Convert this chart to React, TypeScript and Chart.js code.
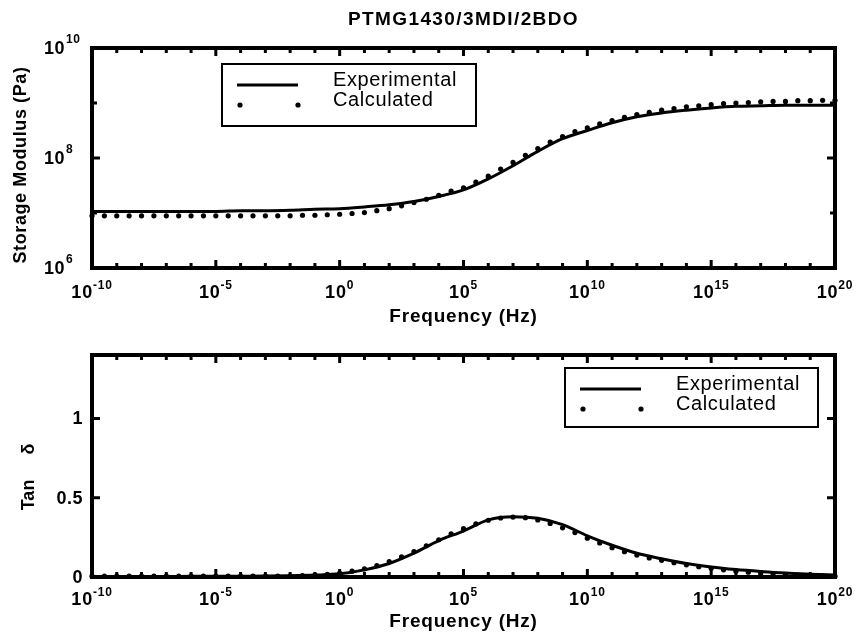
import React, { useEffect, useRef } from 'react';
import { Chart, registerables } from 'chart.js';

Chart.register(...registerables);

const FONT = '"Liberation Sans", Arial, Helvetica, sans-serif';

// ---------------- texts ----------------
const chartTitle = 'PTMG1430/3MDI/2BDO';
const xAxisTitle = 'Frequency (Hz)';
const topYAxisTitle = 'Storage Modulus (Pa)';
const bottomYAxisTitle = 'Tan     δ';
const seriesNames = ['Experimental', 'Calculated'];

// ---------------- data ----------------
// experimental curve, one point per decade (Hz)
const expFreq = [
  1e-10, 1e-9, 1e-8, 1e-7, 1e-6, 1e-5, 1e-4, 1e-3, 1e-2, 1e-1, 1,
  1e1, 1e2, 1e3, 1e4, 1e5, 1e6, 1e7, 1e8, 1e9, 1e10,
  1e11, 1e12, 1e13, 1e14, 1e15, 1e16, 1e17, 1e18, 1e19, 1e20,
];
// storage modulus, Pa
const expStorage = [
  1.07e7, 1.07e7, 1.07e7, 1.07e7, 1.07e7, 1.07e7, 1.10e7, 1.10e7, 1.12e7, 1.17e7, 1.20e7,
  1.29e7, 1.41e7, 1.62e7, 2.0e7, 2.63e7, 4.17e7, 7.24e7, 1.32e8, 2.24e8, 3.16e8,
  4.37e8, 5.62e8, 6.61e8, 7.41e8, 8.13e8, 8.71e8, 8.91e8, 9.12e8, 9.12e8, 9.12e8,
];
// tan delta
const expTan = [
  0.003, 0.003, 0.003, 0.003, 0.004, 0.004, 0.005, 0.006, 0.008, 0.012, 0.02,
  0.045, 0.085, 0.15, 0.23, 0.29, 0.36, 0.38, 0.37, 0.33, 0.26,
  0.20, 0.15, 0.115, 0.085, 0.063, 0.047, 0.035, 0.025, 0.018, 0.012,
];

// calculated points, two per decade (Hz)
const calcFreq = [
  1e-10, 3.16e-10, 1e-9, 3.16e-9, 1e-8, 3.16e-8, 1e-7, 3.16e-7, 1e-6, 3.16e-6,
  1e-5, 3.16e-5, 1e-4, 3.16e-4, 1e-3, 3.16e-3, 1e-2, 3.16e-2, 1e-1, 3.16e-1,
  1, 3.16, 10, 31.6, 100, 316, 1e3, 3.16e3, 1e4, 3.16e4,
  1e5, 3.16e5, 1e6, 3.16e6, 1e7, 3.16e7, 1e8, 3.16e8, 1e9, 3.16e9,
  1e10, 3.16e10, 1e11, 3.16e11, 1e12, 3.16e12, 1e13, 3.16e13, 1e14, 3.16e14,
  1e15, 3.16e15, 1e16, 3.16e16, 1e17, 3.16e17, 1e18, 3.16e18, 1e19, 3.16e19,
  1e20,
];
const calcStorage = [
  8.9e6, 8.9e6, 8.9e6, 8.9e6, 8.9e6, 8.9e6, 8.9e6, 8.9e6, 8.9e6, 8.9e6,
  8.9e6, 8.9e6, 8.9e6, 8.9e6, 8.9e6, 8.9e6, 8.9e6, 9.1e6, 9.1e6, 9.3e6,
  9.5e6, 9.8e6, 1.02e7, 1.10e7, 1.20e7, 1.35e7, 1.55e7, 1.78e7, 2.09e7, 2.51e7,
  2.88e7, 3.63e7, 4.68e7, 6.31e7, 8.32e7, 1.12e8, 1.48e8, 1.95e8, 2.45e8, 3.02e8,
  3.55e8, 4.17e8, 4.79e8, 5.50e8, 6.17e8, 6.76e8, 7.41e8, 7.94e8, 8.51e8, 8.91e8,
  9.33e8, 9.77e8, 1.00e9, 1.02e9, 1.05e9, 1.07e9, 1.07e9, 1.10e9, 1.10e9, 1.12e9,
  1.12e9,
];
const calcTan = [
  0.005, 0.005, 0.005, 0.005, 0.005, 0.005, 0.005, 0.005, 0.005, 0.005,
  0.005, 0.005, 0.005, 0.005, 0.005, 0.006, 0.007, 0.009, 0.012, 0.017,
  0.025, 0.037, 0.052, 0.072, 0.097, 0.127, 0.16, 0.197, 0.235, 0.272,
  0.305, 0.335, 0.358, 0.372, 0.378, 0.374, 0.36, 0.338, 0.31, 0.28,
  0.245, 0.215, 0.185, 0.16, 0.138, 0.12, 0.105, 0.09, 0.077, 0.065,
  0.055, 0.045, 0.037, 0.03, 0.024, 0.019, 0.015, 0.012, 0.009, 0.007,
  0.005,
];

// ---------------- axes ----------------
const xRange = [1e-10, 1e20];
const xTickValues = expFreq; // a tick mark every decade
const xLabelValues = [1e-10, 1e-5, 1, 1e5, 1e10, 1e15, 1e20];
const xLabelExponents = ['-10', '-5', '0', '5', '10', '15', '20'];

const topYRange = [1e6, 1e10];
const topYTickValues = [1e6, 1e7, 1e8, 1e9, 1e10];
const topYLabelValues = [1e6, 1e8, 1e10];
const topYLabelExponents = ['6', '8', '10'];

const bottomYRange = [0, 1.4];
const bottomYTickValues = [0, 0.5, 1];
const bottomYLabels = ['0', '0.5', '1'];

// ---------------- drawing helpers ----------------
function setSpacing(ctx: any, px: number) {
  try { ctx.letterSpacing = px + 'px'; } catch (e) { /* ignore */ }
}

function drawText(ctx: any, str: string, x: number, y: number, font: string, align: string, baseline: string, spacing: number) {
  ctx.save();
  ctx.font = font;
  setSpacing(ctx, spacing);
  ctx.textAlign = align;
  ctx.textBaseline = baseline;
  ctx.fillStyle = '#000';
  ctx.fillText(str, x, y);
  ctx.restore();
}

const BASE_FONT = `bold 18px ${FONT}`;
const EXP_FONT = `bold 12px ${FONT}`;

function measure(ctx: any, str: string, font: string, spacing: number) {
  ctx.save();
  ctx.font = font;
  setSpacing(ctx, spacing);
  const w = ctx.measureText(str).width;
  ctx.restore();
  return w;
}

type DecorCfg = {
  title?: string;
  xDigitBaseline: number;
  xTitleBaseline: number;
  yMode: 'pow' | 'lin';
  yLabelValues: number[];
  yLabels: string[];
  yMajor: number[];
  yLabelRight: number;
  yTitle: string;
  yTitlePos: [number, number];
  yTitleSpacing: number;
  legendBox: [number, number, number, number];
};

function makeDecor(cfg: DecorCfg) {
  return {
    id: 'decor',
    afterDatasetsDraw(chart: any) {
      const { ctx, chartArea: a } = chart;
      const xs = chart.scales.x;
      const ys = chart.scales.y;
      ctx.save();
      ctx.strokeStyle = '#000';
      ctx.lineWidth = 3;
      ctx.beginPath();
      xs.ticks.forEach((t: any) => {
        const px = xs.getPixelForValue(t.value);
        const len = xLabelValues.includes(t.value) ? 8 : 5;
        ctx.moveTo(px, a.top);
        ctx.lineTo(px, a.top + len);
        ctx.moveTo(px, a.bottom);
        ctx.lineTo(px, a.bottom - len);
      });
      ys.ticks.forEach((t: any) => {
        const py = ys.getPixelForValue(t.value);
        const len = cfg.yMajor.includes(t.value) ? 8 : 5;
        ctx.moveTo(a.left, py);
        ctx.lineTo(a.left + len, py);
        ctx.moveTo(a.right, py);
        ctx.lineTo(a.right - len, py);
      });
      ctx.stroke();
      ctx.lineWidth = 4;
      ctx.strokeRect(a.left, a.top, a.right - a.left, a.bottom - a.top);
      ctx.restore();
    },
    afterDraw(chart: any) {
      const { ctx, chartArea: a } = chart;
      const xs = chart.scales.x;
      const ys = chart.scales.y;
      const cx = (a.left + a.right) / 2;

      if (cfg.title) {
        drawText(ctx, cfg.title, cx, 25, `bold 19px ${FONT}`, 'center', 'alphabetic', 1.4);
      }

      // x tick labels (10 with superscript exponent)
      xLabelValues.forEach((v, i) => {
        const px = xs.getPixelForValue(v);
        const exp = xLabelExponents[i];
        const bw = measure(ctx, '10', BASE_FONT, 0.8);
        const ew = measure(ctx, exp, EXP_FONT, 0.8);
        const start = px - (bw + ew) / 2;
        drawText(ctx, '10', start, cfg.xDigitBaseline, BASE_FONT, 'left', 'alphabetic', 0.8);
        drawText(ctx, exp, start + bw, cfg.xDigitBaseline - 9, EXP_FONT, 'left', 'alphabetic', 0.8);
      });

      drawText(ctx, xAxisTitle, cx, cfg.xTitleBaseline, `bold 19px ${FONT}`, 'center', 'alphabetic', 0.8);

      // y tick labels
      cfg.yLabelValues.forEach((v, i) => {
        const py = ys.getPixelForValue(v);
        if (cfg.yMode === 'pow') {
          drawText(ctx, '10', cfg.yLabelRight, py + 6, BASE_FONT, 'right', 'alphabetic', 0.5);
          drawText(ctx, cfg.yLabels[i], cfg.yLabelRight + 1, py - 5, EXP_FONT, 'left', 'alphabetic', 0.5);
        } else {
          drawText(ctx, cfg.yLabels[i], cfg.yLabelRight, py + 6, BASE_FONT, 'right', 'alphabetic', 0.5);
        }
      });

      // rotated y title
      ctx.save();
      ctx.translate(cfg.yTitlePos[0], cfg.yTitlePos[1]);
      ctx.rotate(-Math.PI / 2);
      drawText(ctx, cfg.yTitle, 0, 0, `bold 18px ${FONT}`, 'center', 'middle', cfg.yTitleSpacing);
      ctx.restore();

      // legend box
      const [bx, by, bwid, bh] = cfg.legendBox;
      ctx.save();
      ctx.fillStyle = '#fff';
      ctx.fillRect(bx, by, bwid, bh);
      ctx.strokeStyle = '#000';
      ctx.lineWidth = 2;
      ctx.strokeRect(bx, by, bwid, bh);
      ctx.lineWidth = 3;
      ctx.beginPath();
      ctx.moveTo(bx + 15, by + 21);
      ctx.lineTo(bx + 76, by + 21);
      ctx.stroke();
      ctx.fillStyle = '#000';
      [bx + 18, bx + 76].forEach((dx) => {
        ctx.beginPath();
        ctx.arc(dx, by + 41, 2.6, 0, Math.PI * 2);
        ctx.fill();
      });
      ctx.restore();
      const names = chart.data.datasets.map((d: any) => d.label);
      drawText(ctx, names[0], bx + 111, by + 22, `20px ${FONT}`, 'left', 'alphabetic', 0.6);
      drawText(ctx, names[1], bx + 111, by + 42, `20px ${FONT}`, 'left', 'alphabetic', 0.6);
    },
  };
}

function makeConfig(
  lineY: number[],
  dotY: number[],
  yType: 'logarithmic' | 'linear',
  yRange: number[],
  yTicks: number[],
  padding: any,
  decor: DecorCfg,
): any {
  return {
    type: 'scatter',
    data: {
      datasets: [
        {
          label: seriesNames[0],
          data: expFreq.map((f, i) => ({ x: f, y: lineY[i] })),
          showLine: true,
          borderColor: '#000',
          borderWidth: 3,
          pointRadius: 0,
          cubicInterpolationMode: 'monotone',
          fill: false,
          clip: 10,
          order: 2,
        },
        {
          label: seriesNames[1],
          data: calcFreq.map((f, i) => ({ x: f, y: dotY[i] })),
          showLine: false,
          pointRadius: 2.6,
          pointBorderWidth: 0,
          pointBackgroundColor: '#000',
          pointBorderColor: '#000',
          clip: 10,
          order: 1,
        },
      ],
    },
    options: {
      animation: false,
      responsive: false,
      maintainAspectRatio: false,
      devicePixelRatio: 1,
      events: [],
      layout: { padding },
      plugins: {
        legend: { display: false },
        title: { display: false },
        tooltip: { enabled: false },
      },
      scales: {
        x: {
          type: 'logarithmic',
          min: xRange[0],
          max: xRange[1],
          grid: { display: false },
          border: { display: false },
          ticks: { display: false },
          afterBuildTicks: (s: any) => { s.ticks = xTickValues.map((v) => ({ value: v })); },
          afterFit: (s: any) => { s.height = 0; },
        },
        y: {
          type: yType,
          min: yRange[0],
          max: yRange[1],
          grid: { display: false },
          border: { display: false },
          ticks: { display: false },
          afterBuildTicks: (s: any) => { s.ticks = yTicks.map((v) => ({ value: v })); },
          afterFit: (s: any) => { s.width = 0; },
        },
      },
    },
    plugins: [makeDecor(decor)],
  };
}

export default function App() {
  const topRef = useRef<HTMLCanvasElement>(null);
  const botRef = useRef<HTMLCanvasElement>(null);

  useEffect(() => {
    const top = new Chart(
      topRef.current as HTMLCanvasElement,
      makeConfig(
        expStorage,
        calcStorage,
        'logarithmic',
        topYRange,
        topYTickValues,
        { left: 92, right: 21, top: 48, bottom: 62 },
        {
          title: chartTitle,
          xDigitBaseline: 298,
          xTitleBaseline: 322,
          yMode: 'pow',
          yLabelValues: topYLabelValues,
          yLabels: topYLabelExponents,
          yMajor: topYLabelValues,
          yLabelRight: 65,
          yTitle: topYAxisTitle,
          yTitlePos: [21, 165],
          yTitleSpacing: 0.6,
          legendBox: [222, 64, 254, 62],
        },
      ),
    );
    const bottom = new Chart(
      botRef.current as HTMLCanvasElement,
      makeConfig(
        expTan,
        calcTan,
        'linear',
        bottomYRange,
        bottomYTickValues,
        { left: 92, right: 21, top: 25, bottom: 57 },
        {
          xDigitBaseline: 275,
          xTitleBaseline: 297,
          yMode: 'lin',
          yLabelValues: bottomYTickValues,
          yLabels: bottomYLabels,
          yMajor: bottomYTickValues,
          yLabelRight: 83,
          yTitle: bottomYAxisTitle,
          yTitlePos: [29, 147],
          yTitleSpacing: 0,
          legendBox: [565, 38, 253, 59],
        },
      ),
    );
    return () => {
      top.destroy();
      bottom.destroy();
    };
  }, []);

  return (
    <div style={{ position: 'fixed', left: 0, top: 0, width: 856, height: 634, background: '#fff' }}>
      <canvas
        ref={topRef}
        width={856}
        height={330}
        style={{ position: 'absolute', left: 0, top: 0, width: 856, height: 330, display: 'block' }}
      />
      <canvas
        ref={botRef}
        width={856}
        height={304}
        style={{ position: 'absolute', left: 0, top: 330, width: 856, height: 304, display: 'block' }}
      />
    </div>
  );
}
